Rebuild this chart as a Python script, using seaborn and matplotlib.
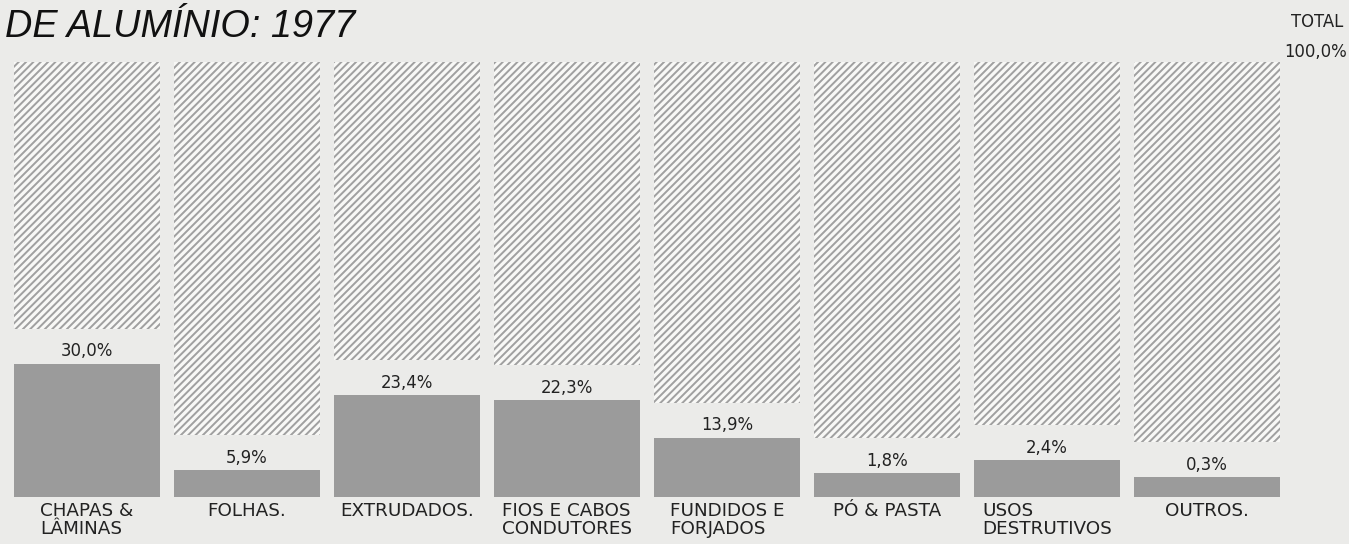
import matplotlib.pyplot as plt
import pandas as pd
import seaborn as sns

# --- data ------------------------------------------------------------------
categories = [
    "CHAPAS &\nLÂMINAS",
    "FOLHAS.",
    "EXTRUDADOS.",
    "FIOS E CABOS\nCONDUTORES",
    "FUNDIDOS E\nFORJADOS",
    "PÓ & PASTA",
    "USOS\nDESTRUTIVOS",
    "OUTROS.",
]
shares = [30.0, 5.9, 23.4, 22.3, 13.9, 1.8, 2.4, 0.3]
# heights as drawn in the original (small shares are drawn taller than to scale)
drawn_heights = [30.6, 6.2, 23.4, 22.3, 13.6, 5.5, 8.5, 4.6]
total_value = 100.0
title = "DE ALUMÍNIO: 1977"

PAPER = "#ebebe9"
BAR_GREY = "#9b9b9b"
HATCH_GREY = "#a0a0a0"
HATCH_FACE = "#f8f8f6"
GAP = 8.0  # space left between the solid bar and the hatched remainder

DPI = 88


def main() -> None:
    sns.set_theme(style="white")
    plt.rcParams["font.family"] = ["DejaVu Sans"]
    plt.rcParams["hatch.linewidth"] = 1.6

    df = pd.DataFrame({"category": categories, "height": drawn_heights, "share": shares})

    fig = plt.figure(figsize=(1349 / DPI, 544 / DPI), dpi=DPI, facecolor=PAPER)
    ax = fig.add_axes([7 / 1349, 47 / 544, 1280 / 1349, 435 / 544])
    ax.set_facecolor(PAPER)

    # hatched remainder up to 100 %
    rest = [total_value - h - GAP for h in df["height"]]
    ax.bar(
        range(len(df)),
        rest,
        bottom=[h + GAP for h in df["height"]],
        width=0.91,
        color=HATCH_FACE,
        edgecolor=HATCH_GREY,
        hatch="////",
        linewidth=0,
    )

    sns.barplot(
        data=df,
        x="category",
        y="height",
        order=categories,
        color=BAR_GREY,
        saturation=1,
        width=0.91,
        linewidth=0,
        ax=ax,
    )

    for i, row in df.iterrows():
        label = f"{row['share']:.1f}".replace(".", ",") + "%"
        ax.text(i, row["height"] + 1.7, label, ha="center", va="baseline",
                fontsize=13.5, color="#222222")

    ax.set_xlim(-0.5, len(df) - 0.5)
    ax.set_ylim(0, total_value)
    ax.set_xlabel("")
    ax.set_ylabel("")
    ax.set_yticks([])
    ax.tick_params(axis="x", length=0, pad=4, labelsize=15, labelcolor="#222222")
    for lbl in ax.get_xticklabels():
        lbl.set_multialignment("left")
        lbl.set_linespacing(1.02)
    sns.despine(ax=ax, left=True, bottom=True)

    fig.text(5 / 1349, 1 - 37 / 544, title, fontsize=31, style="italic",
             family=["Liberation Sans", "DejaVu Sans"], color="#111111",
             ha="left", va="baseline")
    fig.text(1343 / 1349, 1 - 27 / 544, "TOTAL", fontsize=13.5, color="#222222",
             ha="right", va="baseline")
    total_txt = f"{total_value:.1f}".replace(".", ",") + "%"
    fig.text(1347 / 1349, 1 - 57 / 544, total_txt, fontsize=13.5, color="#222222",
             ha="right", va="baseline")

    fig.savefig("out.png", dpi=DPI, facecolor=PAPER)
    plt.close(fig)


if __name__ == "__main__":
    main()
